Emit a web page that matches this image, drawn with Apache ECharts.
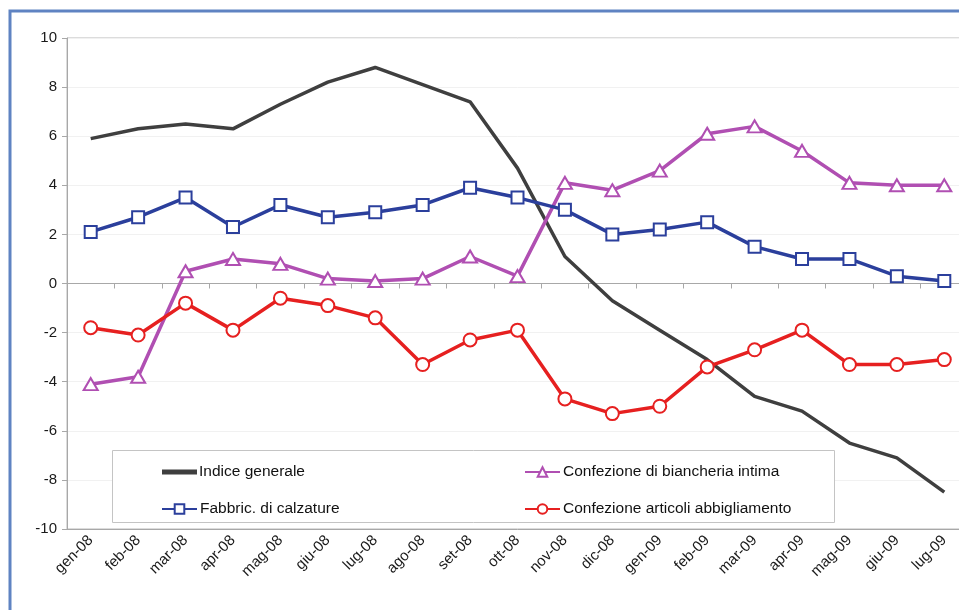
<!DOCTYPE html>
<html>
<head>
<meta charset="utf-8">
<script src="https://cdn.jsdelivr.net/npm/echarts@6/dist/echarts.min.js"></script>
<style>
  html, body { margin: 0; padding: 0; background: #fff; overflow: hidden; width: 959px; height: 610px; }
  #chart { width: 1000px; height: 610px; }
</style>
</head>
<body>
<div id="chart"></div>
<script>
// Months from January 2008 to July 2009
const months = ['gen-08','feb-08','mar-08','apr-08','mag-08','giu-08','lug-08','ago-08','set-08','ott-08','nov-08','dic-08',
                'gen-09','feb-09','mar-09','apr-09','mag-09','giu-09','lug-09'];

const indiceGenerale = [5.9, 6.3, 6.5, 6.3, 7.3, 8.2, 8.8, 8.1, 7.4, 4.7, 1.1, -0.7, -1.9, -3.1, -4.6, -5.2, -6.5, -7.1, -8.5];
const calzature      = [2.1, 2.7, 3.5, 2.3, 3.2, 2.7, 2.9, 3.2, 3.9, 3.5, 3.0, 2.0, 2.2, 2.5, 1.5, 1.0, 1.0, 0.3, 0.1];
const biancheria     = [-4.1, -3.8, 0.5, 1.0, 0.8, 0.2, 0.1, 0.2, 1.1, 0.3, 4.1, 3.8, 4.6, 6.1, 6.4, 5.4, 4.1, 4.0, 4.0];
const abbigliamento  = [-1.8, -2.1, -0.8, -1.9, -0.6, -0.9, -1.4, -3.3, -2.3, -1.9, -4.7, -5.3, -5.0, -3.4, -2.7, -1.9, -3.3, -3.3, -3.1];

const yMin = -10, yMax = 10, yStep = 2;

const names = {
  indice: 'Indice generale',
  bianch: 'Confezione di biancheria intima',
  calz: 'Fabbric. di calzature',
  abbig: 'Confezione articoli abbigliamento'
};

const colors = {
  indice: '#3f3f3f',
  calz: '#2b3f9c',
  bianch: '#b04fb2',
  abbig: '#e62020'
};

const FONT = 'Liberation Sans, Arial, sans-serif';

const chart = echarts.init(document.getElementById('chart'), null, { renderer: 'canvas' });

const legendText = { fontFamily: FONT, fontSize: 15.5, color: '#111', padding: [0, 0, 0, -2] };

function legendAt(name, left, top) {
  return {
    data: [name],
    left: left,
    top: top,
    itemWidth: 35,
    itemHeight: 12,
    selectedMode: false,
    textStyle: legendText
  };
}

const lineSeries = (name, data, color, symbol, size) => ({
  name: name,
  type: 'line',
  data: data,
  color: color,
  symbol: symbol,
  symbolSize: size,
  showAllSymbol: true,
  lineStyle: { color: color, width: 3.5 },
  itemStyle: { color: color, borderColor: color, borderWidth: 1.5 },
  emphasis: { disabled: true },
  z: 3
});

chart.setOption({
  backgroundColor: '#ffffff',
  animation: false,
  grid: {
    left: 67, top: 38, width: 901, height: 491,
    show: true, borderColor: '#b8b8b8', borderWidth: 1, backgroundColor: 'transparent'
  },
  graphic: [
    {
      type: 'rect', z: 100, silent: true,
      shape: { x: 10, y: 11, width: 1040, height: 700 },
      style: { fill: 'none', stroke: '#5f83c2', lineWidth: 3 }
    },
    {
      type: 'rect', z: 1, silent: true,
      shape: { x: 112.5, y: 450.5, width: 722, height: 72 },
      style: { fill: '#ffffff', stroke: '#c4c4c4', lineWidth: 1 }
    }
  ],
  legend: [
    {
      data: [{ name: names.indice, icon: 'rect' }],
      left: 157, top: 459,
      itemWidth: 33, itemHeight: 3,
      selectedMode: false,
      itemStyle: { color: colors.indice },
      textStyle: legendText
    },
    legendAt(names.bianch, 519, 459),
    legendAt(names.calz, 156, 496),
    legendAt(names.abbig, 519, 496)
  ],
  xAxis: [
    {
      type: 'category',
      data: months,
      position: 'bottom',
      boundaryGap: true,
      axisLine: { onZero: false, lineStyle: { color: '#a8a8a8', width: 1 } },
      axisTick: { show: false },
      axisLabel: {
        rotate: 45, margin: 9, interval: 0,
        fontFamily: FONT, fontSize: 15, color: '#1a1a1a'
      },
      splitLine: { show: false }
    },
    {
      type: 'category',
      data: months,
      position: 'top',
      boundaryGap: true,
      axisLine: { onZero: true, lineStyle: { color: '#a8a8a8', width: 1 } },
      axisTick: { show: true, inside: true, length: 5, interval: 0, lineStyle: { color: '#a8a8a8' } },
      axisLabel: { show: false },
      splitLine: { show: false }
    }
  ],
  yAxis: {
    type: 'value',
    min: yMin, max: yMax, interval: yStep,
    axisLine: { show: true, lineStyle: { color: '#a8a8a8', width: 1 } },
    axisTick: { show: true, length: 5, lineStyle: { color: '#a8a8a8' } },
    axisLabel: {
      margin: 10,
      fontFamily: FONT, fontSize: 15, color: '#1a1a1a'
    },
    splitLine: { show: true, lineStyle: { color: '#f1f1f1', width: 1 } }
  },
  series: [
    lineSeries(names.indice, indiceGenerale, colors.indice, 'none', 0),
    lineSeries(names.bianch, biancheria, colors.bianch, 'emptyTriangle', [14, 12]),
    lineSeries(names.calz, calzature, colors.calz, 'emptyRect', 12),
    lineSeries(names.abbig, abbigliamento, colors.abbig, 'emptyCircle', 13)
  ]
});
</script>
</body>
</html>
